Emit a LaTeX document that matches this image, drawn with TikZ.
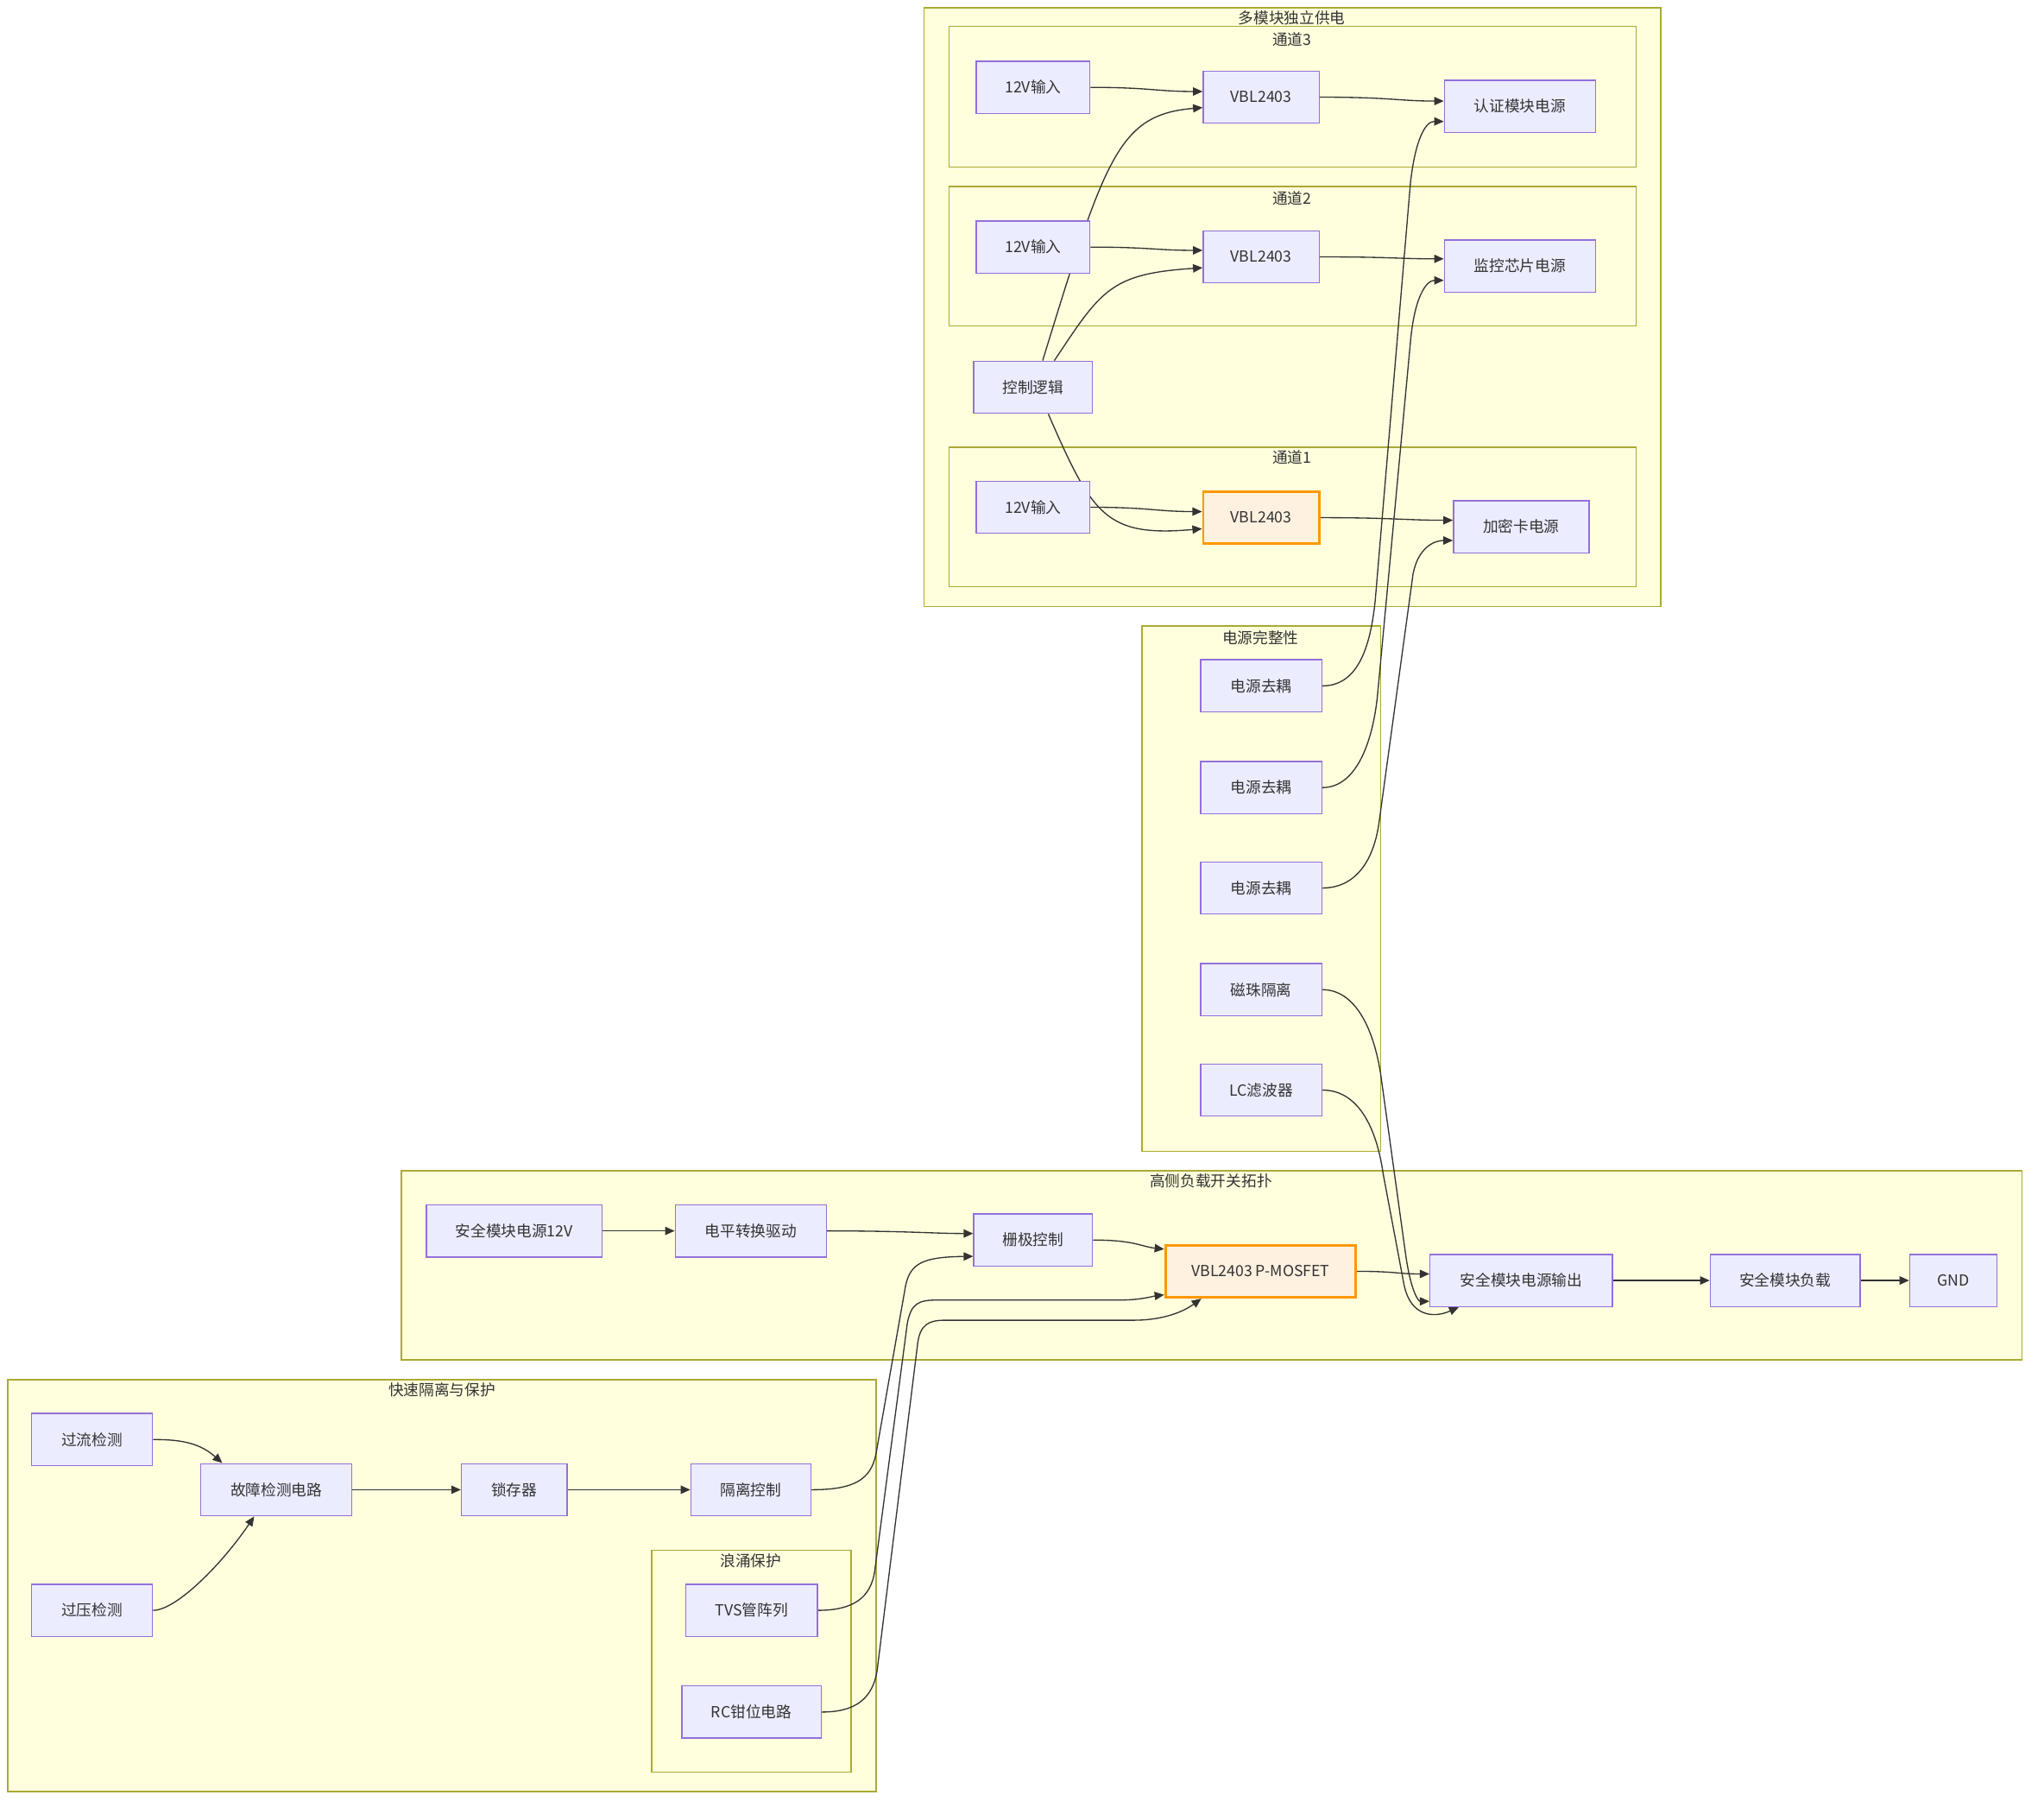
\documentclass[tikz,border=0pt]{standalone}
\usepackage{fontspec}
\setmainfont{Noto Sans CJK SC}
\usepackage{tikz}
\usetikzlibrary{arrows.meta}
\definecolor{nodefill}{HTML}{ECECFF}
\definecolor{nodeline}{HTML}{9370DB}
\definecolor{grpfill}{HTML}{FFFFDE}
\definecolor{grpline}{HTML}{AAAA33}
\definecolor{hotfill}{HTML}{FFF1E0}
\definecolor{hotline}{HTML}{FF9800}
\definecolor{wire}{HTML}{333333}
\pgfdeclarelayer{bg}
\pgfdeclarelayer{wires}
\pgfsetlayers{bg,wires,main}

\begin{document}
\begin{tikzpicture}[x=0.03cm,y=-0.03cm,
	box/.style={draw=nodeline,fill=nodefill,line width=0.8pt,minimum height=1.2cm,inner sep=0pt,text=wire},
	hot/.style={box,draw=hotline,fill=hotfill,line width=1.6pt},
	grp/.style={draw=grpline,fill=grpfill,line width=0.8pt},
	ttl/.style={inner sep=0pt,text=wire},
	link/.style={draw=wire,line width=0.75pt,-{Triangle[length=2.2mm,width=1.9mm]}}]
	\useasboundingbox (0,0) rectangle (1568,1391);
	
	\begin{pgfonlayer}{bg}
		\draw[grp] (709,6) rectangle (1274,465);
		\draw[grp] (728,20) rectangle (1255,128);
		\draw[grp] (728,143) rectangle (1255,250);
		\draw[grp] (728,343) rectangle (1255,450);
		\draw[grp] (876,480) rectangle (1059,883);
		\draw[grp] (308,898) rectangle (1551,1043);
		\draw[grp] (6,1058) rectangle (672,1374);
		\draw[grp] (500,1189) rectangle (653,1359);
	\end{pgfonlayer}
	\node[ttl] (tmulti) at (991,14) {多模块独立供电};
	\node[ttl] (tch3) at (991,30) {通道3};
	\node[ttl] (tch2) at (991,152) {通道2};
	\node[ttl] (tch1) at (991,351) {通道1};
	\node[ttl] (tpi) at (967,489) {电源完整性};
	\node[ttl] (thigh) at (929,906) {高侧负载开关拓扑};
	\node[ttl] (tfast) at (339,1066) {快速隔离与保护};
	\node[ttl] (tsurge) at (576,1197) {浪涌保护};
	
	\node[box,minimum width=2.61cm] (in3) at (792.5,67) {12V输入};
	\node[box,minimum width=2.67cm] (vbl3) at (967.5,74.5) {VBL2403};
	\node[box,minimum width=3.48cm] (auth) at (1166,81.5) {认证模块电源};
	\node[box,minimum width=2.61cm] (in2) at (792.5,189.5) {12V输入};
	\node[box,minimum width=2.67cm] (vbl2) at (967.5,197) {VBL2403};
	\node[box,minimum width=3.48cm] (mon) at (1166,204) {监控芯片电源};
	\node[box,minimum width=2.73cm] (ctrl) at (792.5,297) {控制逻辑};
	\node[box,minimum width=2.61cm] (in1) at (792.5,389) {12V输入};
	\node[hot,minimum width=2.67cm] (vbl1) at (967.5,397) {VBL2403};
	\node[box,minimum width=3.12cm] (crypt) at (1167,404) {加密卡电源};
	
	\node[box,minimum width=2.79cm] (dec1) at (967.5,526) {电源去耦};
	\node[box,minimum width=2.79cm] (dec2) at (967.5,604) {电源去耦};
	\node[box,minimum width=2.79cm] (dec3) at (967.5,681) {电源去耦};
	\node[box,minimum width=2.79cm] (bead) at (967.5,759) {磁珠隔离};
	\node[box,minimum width=2.79cm] (lcf) at (967.5,836) {LC滤波器};
	
	\node[box,minimum width=4.05cm] (src) at (394.5,944) {安全模块电源12V};
	\node[box,minimum width=3.48cm] (lvl) at (576,944) {电平转换驱动};
	\node[box,minimum width=2.73cm] (gate) at (792.5,951) {栅极控制};
	\node[hot,minimum width=4.38cm] (mos) at (967,975) {VBL2403 P-MOSFET};
	\node[box,minimum width=4.2cm] (out) at (1167,982) {安全模块电源输出};
	\node[box,minimum width=3.45cm] (load) at (1369.5,982) {安全模块负载};
	\node[box,minimum width=2.01cm] (gnd) at (1498.5,982) {GND};
	
	\node[box,minimum width=2.79cm] (oc) at (70.5,1104) {过流检测};
	\node[box,minimum width=3.48cm] (fault) at (212,1142.5) {故障检测电路};
	\node[box,minimum width=2.43cm] (latch) at (394.5,1142.5) {锁存器};
	\node[box,minimum width=2.76cm] (iso) at (576,1142.5) {隔离控制};
	\node[box,minimum width=2.79cm] (ov) at (70.5,1235) {过压检测};
	\node[box,minimum width=3.03cm] (tvs) at (576.5,1235) {TVS管阵列};
	\node[box,minimum width=3.21cm] (rc) at (576.5,1313) {RC钳位电路};
	
	\begin{pgfonlayer}{wires}
		\draw[link] (in3.east) .. controls +(45,0) and +(-35,0) .. ([yshift=0.13cm]vbl3.west);
		\draw[link] ([xshift=0.22cm]ctrl.north) .. controls (848,120) and (858,88) .. ([yshift=-0.24cm]vbl3.west);
		\draw[link] (vbl3.east) .. controls +(55,0) and +(-35,0) .. ([yshift=0.12cm]auth.west);
		\draw[link] (in2.east) .. controls +(45,0) and +(-35,0) .. ([yshift=0.15cm]vbl2.west);
		\draw[link] ([xshift=0.49cm]ctrl.north) .. controls (845,222) and (852,210) .. ([yshift=-0.25cm]vbl2.west);
		\draw[link] (vbl2.east) .. controls +(55,0) and +(-35,0) .. ([yshift=0.165cm]mon.west);
		\draw[link] (in1.east) .. controls +(45,0) and +(-35,0) .. ([yshift=0.14cm]vbl1.west);
		\draw[link] ([xshift=0.35cm]ctrl.south) .. controls (838,395) and (848,412) .. ([yshift=-0.255cm]vbl1.west);
		\draw[link] (vbl1.east) .. controls +(55,0) and +(-35,0) .. ([yshift=0.15cm]crypt.west);
		
		\draw[link] (dec1.east) .. controls (1040,526) and (1051,500) .. (1055,460) -- (1082,140) .. controls (1086,105) and (1094,93) .. ([yshift=-0.35cm]auth.west);
		\draw[link] (dec2.east) .. controls (1042,604) and (1054,565) .. (1057,530) -- (1082,262) .. controls (1085,228) and (1094,215) .. ([yshift=-0.33cm]mon.west);
		\draw[link] (dec3.east) .. controls (1040,681) and (1054,660) .. (1058,630) -- (1084,440) .. controls (1088,420) and (1100,414.5) .. ([yshift=-0.315cm]crypt.west);
		\draw[link] (bead.east) .. controls (1040,759) and (1055,790) .. (1060,830) -- (1078,960) .. controls (1082,990) and (1088,998) .. ([yshift=-0.48cm]out.west);
		\draw[link] (lcf.east) .. controls (1042,836) and (1056,865) .. (1061,900) -- (1077,985) .. controls (1082,1010) and (1100,1011) .. ([xshift=-1.44cm]out.south);
		
		\draw[link] (src.east) -- (lvl.west);
		\draw[link] (lvl.east) .. controls +(60,0) and +(-30,0) .. ([yshift=0.15cm]gate.west);
		\draw[link] (gate.east) .. controls +(32,0) and +(-18,-2) .. ([yshift=0.51cm]mos.west);
		\draw[link] (iso.east) .. controls (655,1142.5) and (668,1135) .. (672,1115) -- (694,990) .. controls (697,970) and (705,964) .. ([yshift=-0.375cm]gate.west);
		\draw[link] (tvs.east) .. controls (655,1235) and (668,1225) .. (671,1205) -- (696,1015) .. controls (699,999) and (705,997) .. (720,997) -- (860,997) .. controls (875,997) and (885,994) .. ([yshift=-0.54cm]mos.west);
		\draw[link] (rc.east) .. controls (657,1313) and (670,1302) .. (673,1280) -- (704,1030) .. controls (706,1016) and (712,1012.5) .. (725,1012.5) -- (870,1012.5) .. controls (888,1012.5) and (905,1008) .. ([xshift=-1.365cm]mos.south);
		\draw[link] (mos.east) .. controls +(30,0) and +(-25,0) .. ([yshift=0.15cm]out.west);
		\draw[link] (out.east) -- (load.west);
		\draw[link] (load.east) -- (gnd.west);
		
		\draw[link] (oc.east) .. controls +(20,0) and +(-18,-16) .. ([xshift=-1.245cm]fault.north);
		\draw[link] (ov.east) .. controls (135,1235) and (170,1200) .. ([xshift=-0.51cm]fault.south);
		\draw[link] (fault.east) -- (latch.west);
		\draw[link] (latch.east) -- (iso.west);
	\end{pgfonlayer}
\end{tikzpicture}
\end{document}
